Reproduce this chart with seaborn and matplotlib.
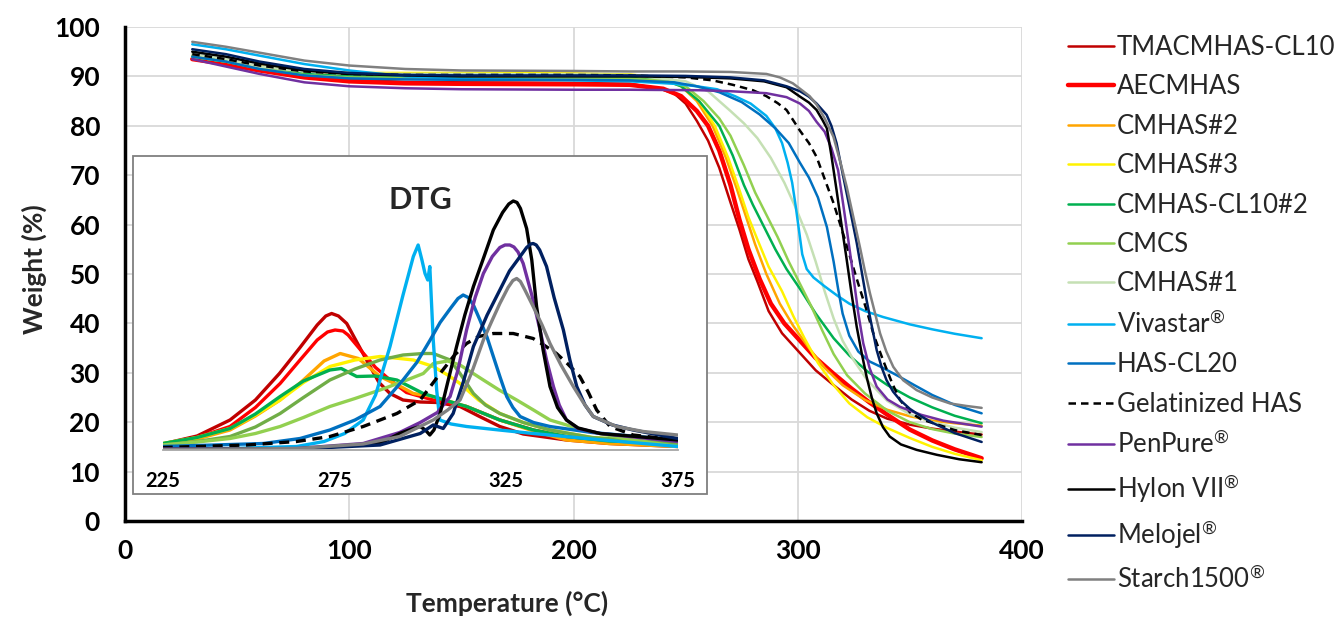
import matplotlib
matplotlib.use('Agg')
import matplotlib.pyplot as plt
from matplotlib.patches import Rectangle
import seaborn as sns

sns.set_style('white')
plt.rcParams['font.family'] = ['Lato', 'DejaVu Sans']
plt.rcParams['mathtext.fontset'] = 'custom'
plt.rcParams['mathtext.rm'] = 'Lato'
plt.rcParams['mathtext.it'] = 'Lato:italic'
plt.rcParams['mathtext.bf'] = 'Lato:bold'

# ---- TGA curves: temperature (°C) and weight (%) ----
early_t = [30, 45, 60, 80, 100, 125, 150, 200, 225]

tmac_t = early_t + [238, 245, 250, 255, 260, 265, 270, 274, 278, 282, 287, 293, 300, 308, 316, 324, 332, 340, 350, 360, 370, 382]
tmac_w = [94, 93, 91.8, 90.3, 89.3, 88.9, 88.8, 88.7, 88.5,
          87.6, 86.5, 84.5, 81, 77, 71.5, 64.5, 59, 53, 48.5, 42.5, 38, 34.5, 30.5, 27.5, 24.6, 22.3, 20.7, 19.5, 18.7, 18.1, 17.5]

aec_t = early_t + [240, 248, 255, 260, 265, 270, 274, 278, 283, 288, 294, 300, 308, 316, 324, 332, 340, 350, 360, 370, 382]
aec_w = [93.5, 92.5, 91.2, 89.8, 89, 88.6, 88.5, 88.4, 88.3,
         87.5, 86, 83, 80, 75, 68, 61, 55, 49, 44, 40, 37, 33, 29.8, 26.8, 24, 21.5, 18.5, 16.3, 14.5, 12.7]

cm2_t = early_t + [240, 248, 255, 262, 268, 273, 277, 281, 286, 292, 298, 305, 312, 320, 330, 340, 350, 360, 370, 382]
cm2_w = [94, 93, 92, 91, 90.6, 90.5, 90.5, 90.5, 90.3,
         89.5, 88, 85, 80, 73.5, 67, 61.5, 56, 50, 44, 39.5, 35, 31, 27.5, 24.5, 22.5, 21.2, 20.3, 19.8, 19.3]

cm3_t = early_t + [240, 248, 256, 263, 269, 274, 278, 282, 287, 293, 298, 303, 309, 316, 323, 331, 340, 350, 360, 370, 382]
cm3_w = [94, 93, 92, 91, 90.7, 90.7, 90.7, 90.6, 90.4,
         89.7, 88.2, 85, 80, 73.5, 67, 61.5, 57, 51.5, 46.5, 41.5, 37, 32, 27.5, 23.8, 21, 18.8, 16.8, 15, 13.6, 12.3]

cl10_t = early_t + [240, 248, 256, 265, 271, 276, 280, 285, 290, 295, 301, 308, 316, 323, 331, 340, 350, 360, 370, 382]
cl10_w = [94, 93, 91.6, 90.5, 90, 89.9, 89.9, 89.8, 89.7,
          89.3, 88, 85, 80, 74, 68, 64, 59.5, 55, 51, 47, 42, 37, 33.5, 30.3, 27.5, 25, 23, 21.3, 19.8]

cmcs_t = early_t + [240, 250, 258, 265, 270, 276, 281, 286, 291, 296, 301, 306, 311, 316, 322, 330, 340, 350, 360, 370, 382]
cmcs_w = [94, 93, 91.6, 90.3, 89.8, 89.7, 89.7, 89.6, 89.5,
          89.2, 88, 85, 81.5, 78, 72, 66.5, 62, 57.5, 52.5, 48, 43.5, 38.5, 33.8, 29.5, 25.8, 22.3, 20, 18.6, 17.7, 17]

cm1_t = early_t + [250, 260, 270, 276, 282, 288, 294, 299, 304, 308, 312, 316, 320, 325, 331, 340, 350, 360, 370, 382]
cm1_w = [94.5, 93.5, 92, 91, 90.6, 90.5, 90.5, 90.4, 90.3,
         89, 87, 83, 80.5, 77.5, 73.5, 68.5, 63.5, 58, 52.5, 46.5, 41, 36.5, 32.5, 28.5, 24.3, 21.6, 20, 18.9, 18]

viva_t = early_t + [245, 255, 264, 272, 279, 286, 290, 293, 295.5, 297.5, 299, 300.5, 302, 304, 307, 312, 318, 323, 330, 338, 350, 360, 370, 382]
viva_w = [96.5, 95.5, 94.2, 92.5, 91.2, 90, 89.5, 89.2, 89,
          88.5, 88, 87.4, 86, 84.5, 82, 79.5, 76.5, 72.5, 68.5, 64, 59, 54, 51, 49.3, 47.5, 45.5, 44, 42.5, 41.3, 39.8, 38.8, 37.9, 37]

has_t = early_t + [245, 255, 265, 275, 283, 290, 296, 301, 305, 309, 313, 316, 318, 320, 323, 327, 332, 338, 345, 352, 360, 370, 382]
has_w = [94, 93, 91.5, 90.2, 89.6, 89.4, 89.3, 89.3, 89.2,
         88.8, 88, 86.8, 84.8, 82.3, 79.5, 76.5, 72.5, 69.5, 65.5, 59.5, 52.5, 47, 42, 37.5, 34.3, 32.3, 31, 29.3, 27.5, 25.5, 23.5, 21.8]

gel_t = early_t + [250, 262, 271, 280, 286, 291, 295, 301, 305, 308.4, 313, 316, 320, 323.3, 327, 330.7, 334, 338, 342, 345.6, 350, 355, 360.4, 370, 382]
gel_w = [94.5, 93.5, 92.2, 91, 90.5, 90.3, 90.3, 90.3, 90.2,
         89.8, 89.2, 88.3, 87.2, 86, 84.6, 83.2, 79, 76.5, 73.7, 68, 64.3, 58.5, 53.5, 48, 42.7, 37.5, 32.6, 28, 24.5, 22, 20.6, 19.8, 18.4, 17.4]

pen_t = early_t + [256, 270, 286, 295, 301, 305, 308.4, 312, 315, 318, 320.3, 322.5, 324.8, 327, 329.2, 332, 335.2, 340, 345.6, 355, 365, 382]
pen_w = [93.5, 92, 90.5, 88.8, 88, 87.6, 87.4, 87.3, 87.3,
         87.2, 87, 86.6, 85.8, 84.5, 83, 80.8, 78.8, 75.5, 71, 64, 57, 49.5, 42, 36, 31, 27.2, 24.6, 23.1, 21.5, 20.3, 19.1]

hyl_t = early_t + [250, 270, 285, 295, 301, 305, 308.4, 311, 313, 315, 317.3, 319.5, 321.8, 324, 326.3, 328.5, 330.7, 333, 335.2, 338, 341, 346, 353, 362, 372, 382]
hyl_w = [95, 94, 92.6, 91.2, 90.5, 90.2, 90, 90, 90,
         89.9, 89.6, 89, 87.8, 85.9, 84.7, 83.2, 81.2, 79.5, 74, 67, 60, 53, 46, 39.3, 34, 29.2, 25, 21.8, 19, 17.1, 15.5, 14.4, 13.4, 12.5, 11.9]

mel_t = early_t + [250, 270, 285, 295, 301, 305, 308.4, 312.9, 315, 317.3, 319.5, 321.8, 324, 326.3, 328.5, 330.7, 333, 335.2, 337.5, 339.6, 342.5, 345.6, 350, 355, 360.4, 370, 382]
mel_w = [95.5, 94.5, 93, 91.5, 90.7, 90.3, 90.2, 90.2, 90.2,
         90.1, 89.8, 89.2, 88, 87, 85.9, 84.5, 82.2, 80, 76.5, 71.5, 66.4, 61.5, 56.3, 50.5, 44.7, 39.5, 34.6, 31, 28.5, 26.2, 24.5, 22.7, 21.2, 19.8, 17.8, 16]

st_t = early_t + [250, 270, 286, 292, 297.8, 301, 305.3, 308.4, 312, 315.9, 318.8, 321.8, 324.8, 327.7, 330, 332.2, 334.5, 336.7, 339.5, 342.6, 347, 353, 360, 367.9, 375, 382]
st_w = [97, 96, 94.8, 93.2, 92.2, 91.5, 91.2, 91.1, 91,
        91, 90.9, 90.5, 89.8, 88.6, 87.5, 86, 84.3, 81.5, 77.8, 73, 67.7, 61.5, 55.5, 50.5, 46.1, 42, 38, 34.3, 31.2, 28.5, 26.5, 25, 23.8, 23.3, 22.9]

# ---- DTG inset curves: temperature (°C) and rate (a.u.) ----
d_tmac_t = [225, 235, 244.6, 252, 259, 265, 270, 272.5, 274.2, 276.2, 278.6, 282, 285.4, 288, 291.2, 295, 300, 305, 311.6, 317, 323.2, 330, 342.6, 355, 375]
d_tmac_v = [1.2, 2.8, 6, 10, 15.3, 20.5, 25, 26.8, 27.3, 26.8, 25.3, 21, 16.7, 13.5, 11.3, 10, 9.6, 9.5, 8.7, 6.8, 4.7, 3.2, 2, 1.3, 0.7]

d_aec_t = [225, 235, 244.6, 252, 259.2, 265, 270, 273, 275.2, 277.5, 279, 283.5, 287, 291.2, 296, 303.8, 313.5, 323.2, 333, 342.6, 355, 375]
d_aec_v = [1.2, 2.5, 4.7, 8.5, 13.3, 18, 22, 23.6, 24, 23.8, 23, 19.3, 16.5, 14, 11.5, 10, 8.7, 6, 4, 2.7, 1.8, 1.3]

d_cm2_t = [225, 235, 244.6, 252, 259.2, 266, 272, 276.7, 282, 288.3, 294, 298, 303.8, 313.5, 323.2, 333, 342.6, 355, 375]
d_cm2_v = [1.2, 2.2, 4, 6.8, 10, 14, 17.8, 19.3, 18.3, 14.7, 12.8, 11.3, 10.7, 8.7, 6, 3.8, 2, 1.3, 0.7]

d_cm3_t = [225, 235, 244.6, 252, 259.2, 266, 273.7, 281, 288.3, 294, 298, 303.8, 308, 311.6, 317, 323.2, 330, 337.8, 350, 375]
d_cm3_v = [1.3, 2.5, 4.3, 7, 10, 13.5, 16.7, 18, 18.7, 18.3, 18, 16.7, 15, 13.3, 10, 7.3, 5.5, 4, 2.5, 1.3]

d_cl10_t = [225, 235, 244.6, 252, 259.2, 266, 273.7, 277, 281.5, 287, 293.2, 300.9, 307, 313.5, 323.2, 333, 342.6, 355, 375]
d_cl10_v = [1.3, 2.5, 4.3, 7.2, 10.7, 13.8, 16, 16.3, 14.7, 14.8, 14, 11.3, 10, 8.7, 6, 4, 2.7, 1.8, 1.3]

d_cmcs_t = [225, 235, 244.6, 252, 259.2, 266, 273.7, 281, 288.3, 295, 300.9, 303.8, 308.7, 311.6, 315.5, 319, 323.2, 330, 337.8, 350, 375]
d_cmcs_v = [1, 1.7, 2.7, 4.6, 7.3, 10.5, 14, 16.2, 18, 19, 19.3, 19.3, 18, 15.3, 11.3, 9, 7.3, 5.5, 4, 2.5, 1.3]

d_cm1_t = [225, 235, 244.6, 252, 259.2, 266, 273.7, 281, 288.3, 295, 300.9, 303.8, 308, 311.6, 315, 318.4, 323, 328.1, 333, 337.8, 347.5, 360, 375]
d_cm1_v = [1, 1.6, 2.3, 3.3, 4.7, 6.5, 8.7, 10.3, 12, 13.7, 15.3, 17.3, 17.8, 17, 15.5, 14, 12, 10, 8, 6, 4, 2.2, 0.7]

d_viva_t = [225, 245, 264, 272, 278, 283.4, 287, 291.2, 295, 298, 299.4, 300.5, 301.4, 302.2, 302.8, 303.8, 304.8, 305.7, 309, 313.5, 323, 332.9, 350, 375]
d_viva_v = [0.1, 0.3, 0.7, 1.7, 3.3, 6, 11, 20.7, 31, 38.7, 41, 38, 35.3, 34, 36.7, 22, 12, 6, 5.2, 4.7, 4, 3.3, 2.2, 0.7]

d_has_t = [225, 240, 254.3, 265, 273.7, 281, 288.3, 295, 299, 302.9, 305.8, 309, 311, 312.5, 314, 315.5, 317.4, 319.5, 321.3, 323.3, 325.2, 327, 329.1, 333, 337.8, 350, 375]
d_has_v = [0.7, 1, 1.3, 2.3, 4, 6, 8.7, 14, 17.5, 22, 25.5, 28.5, 30.3, 31, 30.5, 29, 26, 22.5, 18.7, 14.5, 10.7, 8.5, 6.7, 5.5, 4.7, 3.5, 2]

d_gel_t = [225, 249.5, 264, 273.7, 283.4, 293.2, 300, 305.8, 310, 313.5, 317, 321.3, 327.1, 332.9, 336, 339.7, 343, 346.5, 349, 351.4, 355.3, 362, 375]
d_gel_v = [0.5, 1, 1.7, 2.7, 4.7, 7.3, 10, 15.3, 19, 21.3, 22.7, 23.3, 23.3, 22.3, 21, 19.3, 17.2, 14.7, 11.5, 8, 4.7, 3, 2]

d_pen_t = [225, 264, 283.4, 294, 300, 305, 308.7, 311, 313.5, 316, 318.4, 321, 323.2, 324.7, 326.1, 327.3, 328.5, 330, 332.5, 334.9, 336.8, 338.8, 340.5, 342.6, 346, 352.4, 375]
d_pen_v = [0.2, 0.3, 1.3, 3.5, 5.5, 7.5, 10.7, 16, 24, 30.5, 35.3, 38.7, 40.5, 41, 41, 40.6, 39.6, 37.3, 31, 24, 18, 12.7, 9, 6, 4.3, 3.3, 1.7]

d_hyl_t = [225, 264, 288.3, 294, 298, 300, 301.5, 302.8, 304, 305.8, 308, 310.6, 313, 315.5, 318.5, 321.3, 324, 325.8, 327.1, 328.2, 329.2, 331, 332.5, 333.9, 335.8, 337.8, 340, 342.6, 346, 352.4, 375]
d_hyl_v = [0.1, 0.2, 1.3, 3.3, 4.3, 4.7, 4, 3, 4, 7.3, 13.5, 20.7, 27, 32.7, 38.5, 44, 47.5, 49.2, 49.8, 49.5, 48.3, 44.3, 38, 28.7, 20, 12.7, 8.5, 6, 4.4, 3.3, 2]

d_mel_t = [225, 264, 288.3, 300, 303.8, 306.7, 309.6, 312.5, 315.5, 319.5, 323.2, 326, 329.1, 331, 332.2, 332.9, 333.8, 334.8, 336.8, 339, 341.7, 343.6, 345.6, 348, 350.4, 356, 362, 375]
d_mel_v = [0.1, 0.2, 1, 3.3, 5, 4.3, 7.3, 13.5, 20.7, 27, 32, 35.8, 38.7, 40.5, 41.2, 41.3, 41, 40, 36.7, 30.5, 24, 18, 12.7, 9, 6.7, 5, 4, 2.3]

d_st_t = [225, 264, 283.4, 294, 303.8, 308, 311.6, 315, 318.4, 321, 323.2, 325.6, 327, 328.1, 329.2, 330.5, 332.9, 335.5, 337.8, 341, 344.6, 347.5, 350.4, 357.2, 365, 375]
d_st_v = [0.1, 0.3, 1.2, 2.7, 6, 8, 10, 15.5, 22, 26, 29.3, 32.5, 33.9, 34.3, 33.7, 32, 28.7, 25, 21.3, 17, 12.7, 9.5, 6.7, 4.7, 3.7, 3]

names = ['TMACMHAS-CL10', 'AECMHAS', 'CMHAS#2', 'CMHAS#3', 'CMHAS-CL10#2', 'CMCS', 'CMHAS#1',
         'Vivastar$^{®}$', 'HAS-CL20', 'Gelatinized HAS', 'PenPure$^{®}$', 'Hylon VII$^{®}$',
         'Melojel$^{®}$', 'Starch1500$^{®}$']
colors = ['#C00000', '#FF0000', '#FFA500', '#FFF200', '#00B050', '#92D050', '#C5E0B4',
          '#00B0F0', '#0070C0', 'black', '#7030A0', 'black', '#002060', '#808080']
inset_colors = ['#C00000', '#FF0000', '#FFA500', '#FFF200', '#00B050', '#70AD47', '#92D050',
                '#00B0F0', '#0070C0', 'black', '#7030A0', 'black', '#002060', '#808080']
tga = [(tmac_t, tmac_w), (aec_t, aec_w), (cm2_t, cm2_w), (cm3_t, cm3_w), (cl10_t, cl10_w),
       (cmcs_t, cmcs_w), (cm1_t, cm1_w), (viva_t, viva_w), (has_t, has_w), (gel_t, gel_w),
       (pen_t, pen_w), (hyl_t, hyl_w), (mel_t, mel_w), (st_t, st_w)]
dtg = [(d_tmac_t, d_tmac_v), (d_aec_t, d_aec_v), (d_cm2_t, d_cm2_v), (d_cm3_t, d_cm3_v),
       (d_cl10_t, d_cl10_v), (d_cmcs_t, d_cmcs_v), (d_cm1_t, d_cm1_v), (d_viva_t, d_viva_v),
       (d_has_t, d_has_v), (d_gel_t, d_gel_v), (d_pen_t, d_pen_v), (d_hyl_t, d_hyl_v),
       (d_mel_t, d_mel_v), (d_st_t, d_st_v)]

W, H = 1343, 619
fig = plt.figure(figsize=(W / 100, H / 100), dpi=100)
ax = fig.add_axes([125 / W, 1 - 521 / H, 897 / W, 494 / H])

for i, (name, (t, w)) in enumerate(zip(names, tga)):
    ls = (0, (3, 2)) if name == 'Gelatinized HAS' else '-'
    lw = 3.2 if name == 'AECMHAS' else 1.8
    sns.lineplot(x=t, y=w, ax=ax, color=colors[i], lw=lw, linestyle=ls, label=name,
                 estimator=None, sort=False)

ax.set_xlim(0, 400)
ax.set_ylim(0, 100)
ax.set_xticks(range(0, 401, 20))
ax.set_xticklabels([str(v) if v % 100 == 0 else '' for v in range(0, 401, 20)])
ax.set_yticks(range(0, 101, 10))
for v in range(10, 101, 10):
    ax.axhline(v, color='#D9D9D9', lw=1.3, zorder=0)
for v in range(100, 401, 100):
    ax.axvline(v, color='#D9D9D9', lw=1.3, zorder=0)
for s in ['top', 'right']:
    ax.spines[s].set_visible(False)
for s in ['left', 'bottom']:
    ax.spines[s].set_linewidth(2.5)
    ax.spines[s].set_color('black')
ax.tick_params(axis='both', direction='out', length=7, width=2.2, colors='black',
               labelsize=19)
ax.tick_params(axis='y', pad=11)
ax.tick_params(axis='x', pad=6)
for lab in ax.get_xticklabels() + ax.get_yticklabels():
    lab.set_fontweight('bold')
ax.set_xlabel('Temperature (°C)', fontsize=19, fontweight='bold')
ax.set_ylabel('Weight (%)', fontsize=19, fontweight='bold')
ax.xaxis.set_label_coords(0.426, -0.142)
ax.yaxis.set_label_coords(-0.087, 0.51)

handles, labels = ax.get_legend_handles_labels()
ax.get_legend().remove()
fig.legend(handles, labels, loc='upper left', bbox_to_anchor=(1068 / W, 1 - 35 / H),
           frameon=False, fontsize=18.5, handlelength=1.8, handletextpad=0.1,
           labelspacing=0.56, borderpad=0, borderaxespad=0)

# inset box and DTG axes
box = Rectangle((133 / W, 1 - 494 / H), 574 / W, 338 / H, transform=fig.transFigure,
                facecolor='white', edgecolor='#7F7F7F', lw=1.3, zorder=1)
fig.patches.append(box)
axi = fig.add_axes([162.7 / W, 1 - 450 / H, 515 / W, 290 / H], zorder=2)
axi.patch.set_alpha(0)
for i, (t, v) in enumerate(dtg):
    ls = (0, (3, 2)) if names[i] == 'Gelatinized HAS' else '-'
    sns.lineplot(x=t, y=v, ax=axi, color=inset_colors[i], lw=2.4, linestyle=ls,
                 estimator=None, sort=False)
axi.set_xlim(225, 375)
axi.set_ylim(0, 58)
axi.set_xticks([225, 275, 325, 375])
axi.set_yticks([])
axi.set_xlabel('')
axi.set_ylabel('')
for s in ['top', 'right', 'left']:
    axi.spines[s].set_visible(False)
axi.spines['bottom'].set_color('#A6A6A6')
axi.spines['bottom'].set_linewidth(1.3)
axi.tick_params(axis='x', direction='out', length=5, width=1.2, color='#A6A6A6',
                labelcolor='black', labelsize=14.5, pad=10)
for lab in axi.get_xticklabels():
    lab.set_fontweight('bold')
axi.text(300, 50, 'DTG', ha='center', va='center', fontsize=22, fontweight='bold')

fig.savefig('out.png', dpi=100)
